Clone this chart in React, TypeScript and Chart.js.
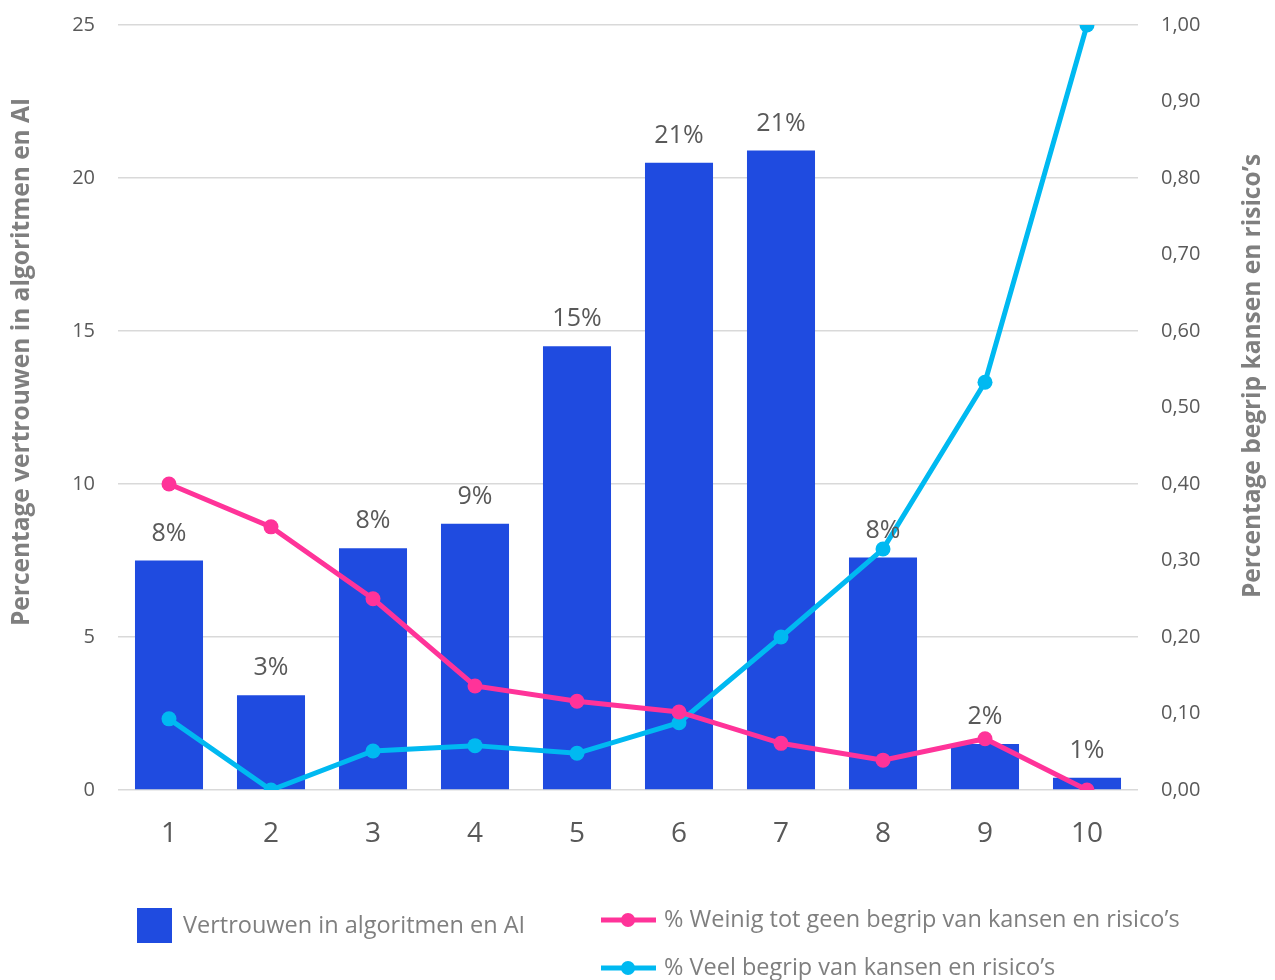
import React, { useEffect, useRef } from "react";
import { Chart, registerables } from "chart.js";

Chart.register(...registerables);

const categories = ["1", "2", "3", "4", "5", "6", "7", "8", "9", "10"];
const trustValues = [7.5, 3.1, 7.9, 8.7, 14.5, 20.5, 20.9, 7.6, 1.5, 0.4];
const trustLabels = ["8%", "3%", "8%", "9%", "15%", "21%", "21%", "8%", "2%", "1%"];
const lowUnderstanding = [0.4, 0.344, 0.25, 0.136, 0.116, 0.102, 0.061, 0.039, 0.067, 0.0];
const highUnderstanding = [0.093, 0.0, 0.051, 0.058, 0.048, 0.088, 0.2, 0.315, 0.533, 1.0];

const seriesNames = [
  "Vertrouwen in algoritmen en AI",
  "% Weinig tot geen begrip van kansen en risico’s",
  "% Veel begrip van kansen en risico’s",
];
const leftTitle = "Percentage vertrouwen in algoritmen en AI";
const rightTitle = "Percentage begrip kansen en risico’s";

const FONT = "'Open Sans', 'Liberation Sans', sans-serif";
const BLUE = "#1f4be0";
const PINK = "#ff3399";
const CYAN = "#00b9f1";
const TICK = "#595959";
const TITLE = "#7f7f7f";

const overlayPlugin = {
  id: "overlay",
  afterDatasetsDraw(chart: any) {
    const ctx = chart.ctx;
    const meta = chart.getDatasetMeta(0);
    ctx.save();
    ctx.font = `25px ${FONT}`;
    ctx.fillStyle = TICK;
    ctx.textAlign = "center";
    ctx.textBaseline = "middle";
    meta.data.forEach((bar: any, i: number) => {
      ctx.fillText(trustLabels[i], bar.x, bar.y - 27);
    });
    ctx.restore();
  },
  afterDraw(chart: any) {
    const ctx = chart.ctx;
    ctx.save();
    ctx.font = `bold 24.5px ${FONT}`;
    ctx.fillStyle = TITLE;
    ctx.textAlign = "center";
    ctx.textBaseline = "middle";
    ctx.save();
    ctx.translate(22, 362);
    ctx.rotate(-Math.PI / 2);
    ctx.fillText(leftTitle, 0, 0);
    ctx.restore();
    ctx.save();
    ctx.translate(1253, 376);
    ctx.rotate(-Math.PI / 2);
    ctx.fillText(rightTitle, 0, 0);
    ctx.restore();

    ctx.font = `23.5px ${FONT}`;
    ctx.textAlign = "left";
    ctx.textBaseline = "middle";
    ctx.fillStyle = BLUE;
    ctx.fillRect(137, 908, 35, 35);
    ctx.fillStyle = TITLE;
    ctx.fillText(seriesNames[0], 183, 926);

    const drawLineKey = (y: number, color: string, text: string) => {
      ctx.strokeStyle = color;
      ctx.lineWidth = 5;
      ctx.beginPath();
      ctx.moveTo(601, y);
      ctx.lineTo(656, y);
      ctx.stroke();
      ctx.fillStyle = color;
      ctx.beginPath();
      ctx.arc(628, y, 7, 0, Math.PI * 2);
      ctx.fill();
      ctx.fillStyle = TITLE;
      ctx.fillText(text, 664, y);
    };
    drawLineKey(920, PINK, seriesNames[1]);
    drawLineKey(968, CYAN, seriesNames[2]);
    ctx.restore();
  },
};

export default function App() {
  const ref = useRef<HTMLCanvasElement | null>(null);
  useEffect(() => {
    if (!ref.current) return;
    const chart = new Chart(ref.current, {
      type: "bar",
      data: {
        labels: categories,
        datasets: [
          {
            type: "bar",
            label: seriesNames[0],
            data: trustValues,
            backgroundColor: BLUE,
            yAxisID: "y",
            order: 3,
            barPercentage: 0.667,
            categoryPercentage: 1,
          },
          {
            type: "line",
            label: seriesNames[1],
            data: lowUnderstanding,
            borderColor: PINK,
            backgroundColor: PINK,
            borderWidth: 5,
            pointRadius: 7.5,
            pointBorderWidth: 0,
            yAxisID: "y1",
            order: 1,
          },
          {
            type: "line",
            label: seriesNames[2],
            data: highUnderstanding,
            borderColor: CYAN,
            backgroundColor: CYAN,
            borderWidth: 5,
            pointRadius: 7.5,
            pointBorderWidth: 0,
            yAxisID: "y1",
            order: 2,
          },
        ],
      } as any,
      options: {
        animation: false,
        responsive: false,
        maintainAspectRatio: false,
        layout: { padding: { top: 25, left: 0, right: 0, bottom: 0 } },
        plugins: {
          legend: { display: false },
          tooltip: { enabled: false },
        },
        scales: {
          x: {
            grid: { display: false, drawTicks: false },
            border: { display: false },
            ticks: {
              color: TICK,
              font: { family: FONT, size: 28 },
              padding: 27,
            },
            afterFit: (s: any) => {
              s.height = 190;
              s.paddingLeft = 0;
              s.paddingRight = 0;
            },
          },
          y: {
            position: "left",
            min: 0,
            max: 25,
            ticks: {
              stepSize: 5,
              color: TICK,
              font: { family: FONT, size: 20 },
              padding: 23,
            },
            grid: { color: "#d9d9d9", lineWidth: 1.5, drawTicks: false },
            border: { display: false },
            afterFit: (s: any) => {
              s.width = 118;
              s.paddingTop = 0;
              s.paddingBottom = 0;
            },
          },
          y1: {
            position: "right",
            min: 0,
            max: 1,
            ticks: {
              stepSize: 0.1,
              color: TICK,
              font: { family: FONT, size: 20 },
              padding: 23,
              callback: (v: any) => Number(v).toFixed(2).replace(".", ","),
            },
            grid: { drawOnChartArea: false, drawTicks: false },
            border: { display: false },
            afterFit: (s: any) => {
              s.width = 137;
              s.paddingTop = 0;
              s.paddingBottom = 0;
            },
          },
        },
      } as any,
      plugins: [overlayPlugin],
    });
    return () => chart.destroy();
  }, []);
  return (
    <div style={{ position: "fixed", left: 0, top: 0, width: 1275, height: 980, background: "#fff" }}>
      <canvas ref={ref} width={1275} height={980} style={{ width: 1275, height: 980 }} />
    </div>
  );
}
